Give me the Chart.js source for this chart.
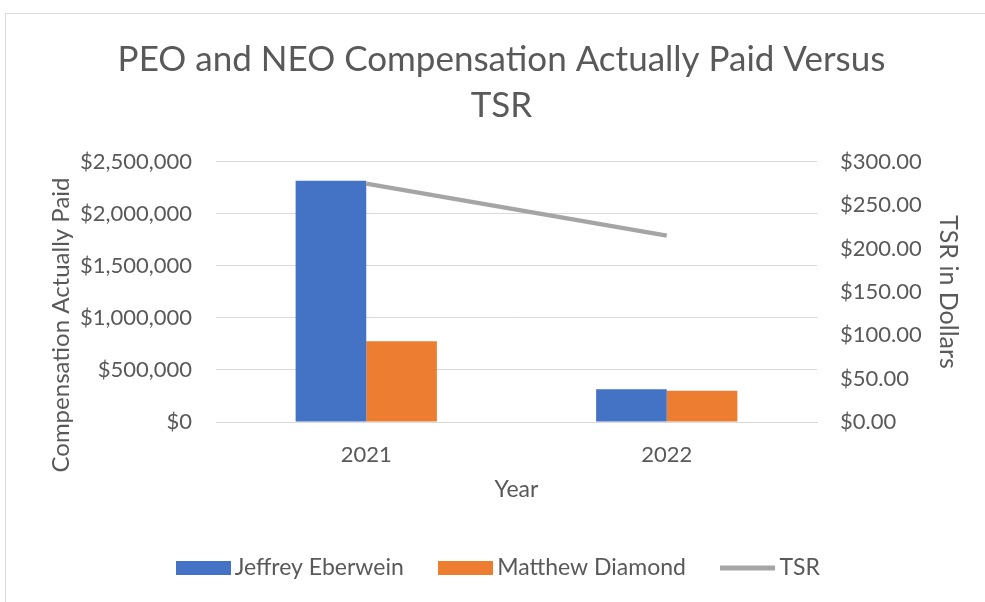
<!DOCTYPE html>
<html>
<head>
<meta charset="utf-8">
<script src="https://cdn.jsdelivr.net/npm/chart.js@4.4.1/dist/chart.umd.min.js"></script>
<style>
  html, body { margin: 0; padding: 0; background: #fff; overflow: hidden; }
  body { width: 985px; height: 602px; position: relative; }
  #frame { position: absolute; left: 5px; top: 13px; width: 990px; height: 600px; border: 1px solid #d9d9d9; box-sizing: border-box; }
  #wrap { position: absolute; left: 0; top: 0; width: 985px; height: 602px; }
</style>
</head>
<body>
<div id="frame"></div>
<div id="wrap"><canvas id="chart"></canvas></div>
<script>
const years = ['2021', '2022'];
const jeffreyEberwein = [2320000, 314000];
const matthewDiamond = [777000, 301000];
const tsrValues = [275, 215];

const textColor = '#595959';
const gridColor = '#d9d9d9';
const fontFamily = 'Lato, "Open Sans", sans-serif';

Chart.defaults.font.family = fontFamily;
Chart.defaults.color = textColor;

// small legend swatches, wider than the layout box so the text sits close
function makeSwatch(color, h) {
    const c = document.createElement('canvas');
    c.width = 55;
    c.height = 14;
    const ctx = c.getContext('2d');
    ctx.fillStyle = color;
    ctx.fillRect(0, (14 - h) / 2, 55, h);
    return c;
}

// left axis title sits a bit below the middle of the plot in the original
const leftTitlePlugin = {
    id: 'leftTitle',
    afterDraw(chart) {
        const ctx = chart.ctx;
        ctx.save();
        ctx.translate(61, 325);
        ctx.rotate(-Math.PI / 2);
        ctx.font = '24px ' + fontFamily;
        ctx.fillStyle = textColor;
        ctx.textAlign = 'center';
        ctx.textBaseline = 'middle';
        ctx.fillText('Compensation Actually Paid', 0, 0);
        ctx.restore();
    }
};

new Chart(document.getElementById('chart'), {
    type: 'bar',
    data: {
        labels: years,
        datasets: [
            {
                label: 'Jeffrey Eberwein',
                data: jeffreyEberwein,
                backgroundColor: '#4472c4',
                yAxisID: 'y',
                order: 1,
                swatch: makeSwatch('#4472c4', 14)
            },
            {
                label: 'Matthew Diamond',
                data: matthewDiamond,
                backgroundColor: '#ed7d31',
                yAxisID: 'y',
                order: 1,
                swatch: makeSwatch('#ed7d31', 14)
            },
            {
                type: 'line',
                label: 'TSR',
                data: tsrValues,
                borderColor: '#a5a5a5',
                backgroundColor: '#a5a5a5',
                borderWidth: 4.5,
                pointRadius: 0,
                tension: 0,
                yAxisID: 'y1',
                order: 0,
                swatch: makeSwatch('#a5a5a5', 5)
            }
        ]
    },
    plugins: [leftTitlePlugin],
    options: {
        responsive: true,
        maintainAspectRatio: false,
        animation: false,
        categoryPercentage: 0.47,
        barPercentage: 1,
        layout: { padding: { left: 32, right: 14, top: 37, bottom: 12.5 } },
        plugins: {
            title: {
                display: true,
                text: ['PEO and NEO Compensation Actually Paid Versus', 'TSR'],
                color: textColor,
                font: { size: 35, weight: 'normal', lineHeight: 1.314 },
                padding: { top: 0, bottom: 33 }
            },
            legend: {
                position: 'bottom',
                labels: {
                    color: textColor,
                    font: { size: 23 },
                    usePointStyle: true,
                    pointStyleWidth: 40,
                    boxHeight: 14,
                    padding: 42,
                    sort: (a, b) => a.datasetIndex - b.datasetIndex,
                    generateLabels: function (chart) {
                        const items = Chart.defaults.plugins.legend.labels.generateLabels(chart);
                        items.forEach(function (it) {
                            it.pointStyle = chart.data.datasets[it.datasetIndex].swatch;
                        });
                        return items;
                    }
                }
            },
            tooltip: { enabled: false }
        },
        scales: {
            x: {
                afterFit: s => { s.height = 92.5; },
                grid: { display: false, drawTicks: false },
                border: { color: gridColor },
                ticks: { color: textColor, font: { size: 22 }, padding: 20 },
                title: {
                    display: true,
                    text: 'Year',
                    color: textColor,
                    font: { size: 23 },
                    padding: { top: 8, bottom: 11 }
                }
            },
            y: {
                position: 'left',
                min: 0,
                max: 2500000,
                afterFit: s => { s.width = 184; },
                grid: { color: gridColor, drawTicks: false },
                border: { display: false },
                ticks: {
                    stepSize: 500000,
                    color: textColor,
                    font: { size: 22 },
                    padding: 24,
                    callback: v => '$' + v.toLocaleString('en-US')
                },
                title: { display: false }
            },
            y1: {
                position: 'right',
                min: 0,
                max: 300,
                afterFit: s => { s.width = 154; },
                grid: { display: false, drawTicks: false },
                border: { display: false },
                ticks: {
                    stepSize: 50,
                    color: textColor,
                    font: { size: 22 },
                    padding: 23,
                    callback: v => '$' + v.toFixed(2)
                },
                title: {
                    display: true,
                    text: 'TSR in Dollars',
                    color: textColor,
                    font: { size: 25 },
                    padding: { top: 8, bottom: 0 }
                }
            }
        }
    }
});
</script>
</body>
</html>
